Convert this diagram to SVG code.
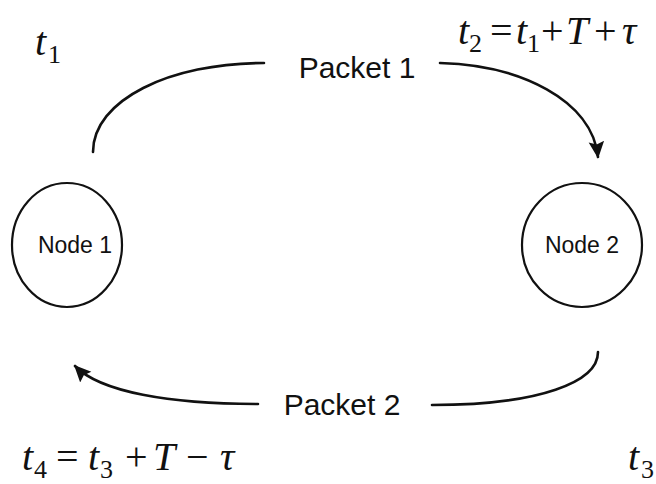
<svg xmlns="http://www.w3.org/2000/svg" width="656" height="484" viewBox="0 0 656 484">
  <style>
    .node { fill: none; stroke: #111; stroke-width: 2.2; }
    .label { font-family: "Liberation Sans", Arial, sans-serif; fill: #111; }
    .nodetext { font-size: 23px; text-anchor: middle; }
    .pkt { font-size: 30px; text-anchor: middle; }
    .math { font-family: "Liberation Serif", "Times New Roman", serif; font-size: 40px; fill: #111; }
    .it { font-style: italic; }
    .sub { font-size: 26px; }
    .edge { fill: none; stroke: #111; stroke-width: 2.6; stroke-linecap: round; }
  </style>
  <defs>
    <marker id="arrow" viewBox="0 0 12 12" refX="11" refY="6" markerWidth="6.5" markerHeight="6.5" orient="auto" markerUnits="strokeWidth">
      <path d="M0,0.5 L12,6 L0,11.5 L2,6 Z" fill="#111"/>
    </marker>
  </defs>

  <rect width="656" height="484" fill="#fff"/>

  <!-- connectors -->
  <g id="connectors">
    <path class="edge" d="M 93 152 C 93 100, 170 63, 264 63"/>
    <path class="edge" d="M 440 63 C 520 65, 592 100, 598 157" marker-end="url(#arrow)"/>
    <path class="edge" d="M 598 352 C 598 382, 540 405, 432 405"/>
    <path class="edge" d="M 258 404 C 170 404, 100 392, 75 366" marker-end="url(#arrow)"/>
  </g>

  <!-- nodes -->
  <g id="node1">
    <ellipse class="node" cx="67" cy="245" rx="55" ry="62"/>
    <text class="label nodetext" x="75" y="253">Node 1</text>
  </g>
  <g id="node2">
    <ellipse class="node" cx="582" cy="245" rx="60" ry="62"/>
    <text class="label nodetext" x="582" y="253">Node 2</text>
  </g>

  <!-- packet labels -->
  <text class="label pkt" x="357" y="78">Packet 1</text>
  <text class="label pkt" x="342" y="415">Packet 2</text>

  <!-- timing expressions -->
  <text class="math" y="55"><tspan class="it" x="35">t</tspan><tspan class="sub" x="48" y="63">1</tspan></text>

  <text class="math" y="44"><tspan class="it" x="458">t</tspan><tspan class="sub" x="469" y="52">2</tspan><tspan x="490" y="44">=</tspan><tspan class="it" x="516">t</tspan><tspan class="sub" x="527" y="52">1</tspan><tspan x="541" y="44">+</tspan><tspan class="it" x="566">T</tspan><tspan x="594">+</tspan><tspan class="it" x="622">τ</tspan></text>

  <text class="math" y="470"><tspan class="it" x="22">t</tspan><tspan class="sub" x="34" y="478">4</tspan><tspan x="56" y="470">=</tspan><tspan class="it" x="88">t</tspan><tspan class="sub" x="100" y="478">3</tspan><tspan x="125" y="470">+</tspan><tspan class="it" x="153">T</tspan><tspan x="186">−</tspan><tspan class="it" x="220">τ</tspan></text>

  <text class="math" y="470"><tspan class="it" x="628">t</tspan><tspan class="sub" x="641" y="478">3</tspan></text>
</svg>
